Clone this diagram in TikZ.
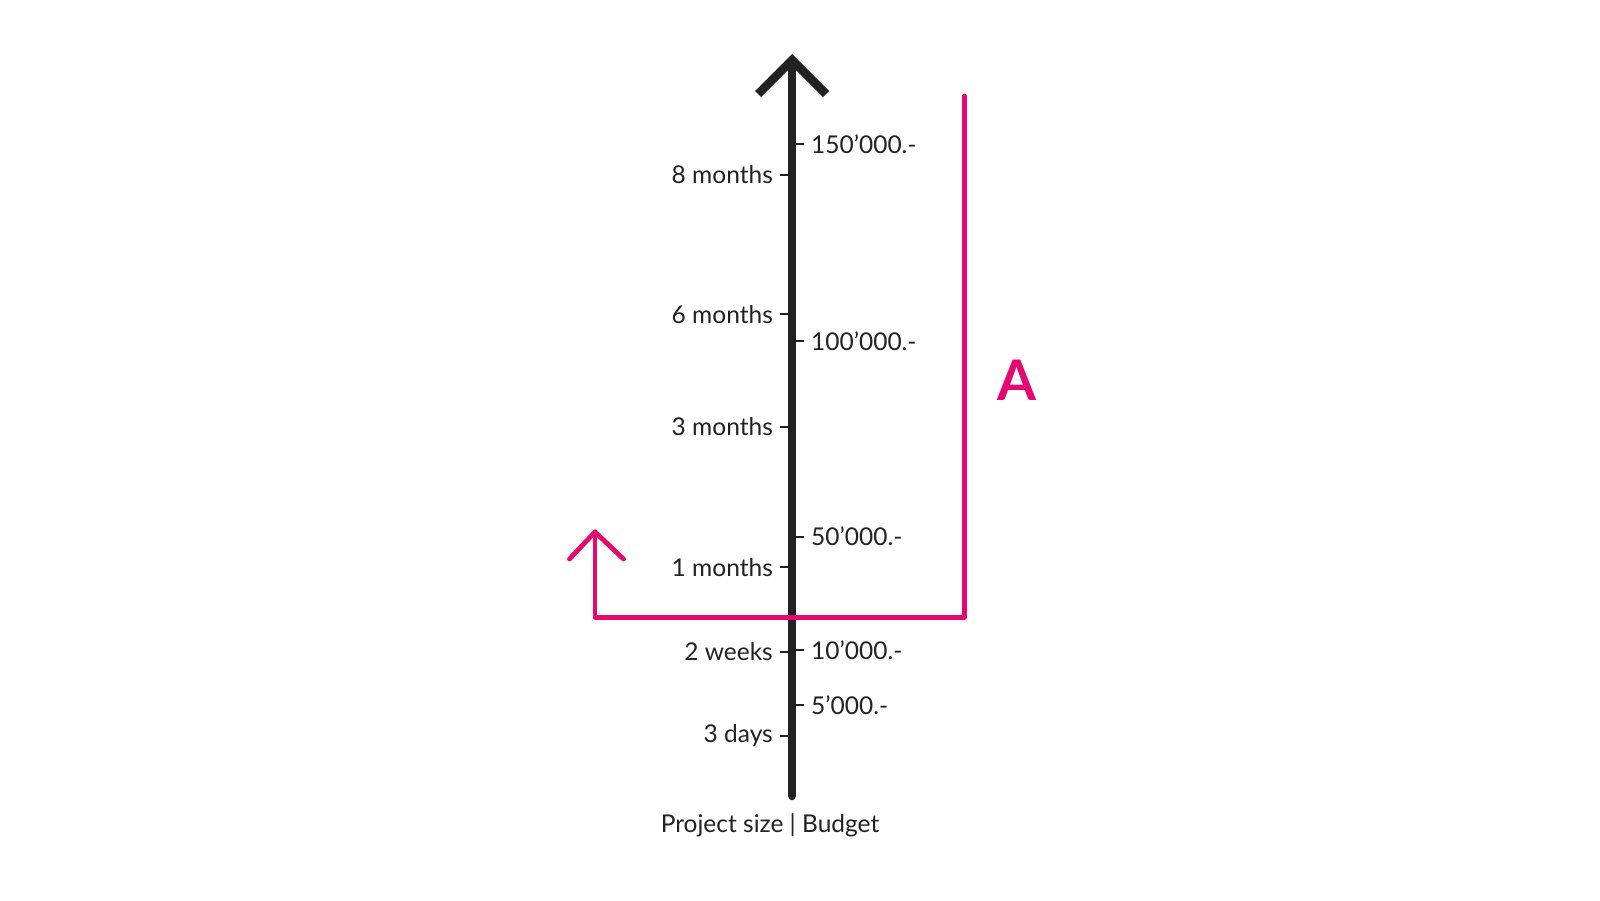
\documentclass[tikz,border=0pt]{standalone}
\usepackage{fontspec}
\setmainfont{Lato}
\definecolor{ink}{HTML}{222222}
\definecolor{pink}{HTML}{E5086F}
\begin{document}
\begin{tikzpicture}[x=1pt,y=-1pt,
  axisline/.style={ink,line width=8.5pt,line cap=round,line join=round},
  headline/.style={ink,line width=8.5pt,line cap=butt,line join=miter},
  pinkline/.style={pink,line width=4.8pt,line cap=round,line join=round},
  tickline/.style={ink,line width=2pt},
  labfont/.style={font=\fontsize{24.5}{28}\selectfont},
  leftlab/.style={labfont,anchor=east,inner sep=0pt,text=ink},
  rightlab/.style={labfont,anchor=west,inner sep=0pt,text=ink}]
\useasboundingbox (0,0) rectangle (1600,900);
% axis
\coordinate (bot) at (792,796);
\coordinate (top) at (792,62);
\coordinate (apex) at (792,60);
\coordinate (tl) at (758,94);
\coordinate (tr) at (826,94);
\draw[axisline] (bot) -- (top);
\draw[headline] (tl) -- (apex) -- (tr);
% left labels
\foreach \n/\y/\t in {m8/174.5/8 months, m6/314.3/6 months, m3/426.5/3 months, m1/567.3/1 months, w2/652/2 weeks, d3/735.7/3 days}{
  \node[leftlab] (\n) at (773,\y) {\t};
  \coordinate (\n t) at (780,\y);
  \coordinate (\n a) at (788,\y);
  \draw[tickline] (\n t) -- (\n a);
}
% right labels
\foreach \n/\y/\t in {b150/143.9/150’000.-, b100/340.8/100’000.-, b50/536.7/50’000.-, b10/650/10’000.-, b5/705.1/5’000.-}{
  \node[rightlab] (\n) at (811,\y) {\t};
  \coordinate (\n t) at (796,\y);
  \coordinate (\n a) at (804,\y);
  \draw[tickline] (\n t) -- (\n a);
}
\node[labfont,inner sep=0pt,text=ink] (title) at (770,825) {Project size | Budget};
% pink path
\coordinate (p1) at (964.3,96);
\coordinate (p2) at (964.3,617.3);
\coordinate (p3) at (595,617.3);
\coordinate (p4) at (595,532);
\coordinate (pl) at (569.5,559);
\coordinate (pr) at (623.5,559);
\draw[pinkline] (p1) -- (p2) -- (p3) -- (p4);
\draw[pinkline] (pl) -- (p4) -- (pr);
\node[inner sep=0pt,text=pink,font=\fontsize{56}{60}\selectfont\bfseries] (A) at (1016.5,380) {A};
\end{tikzpicture}
\end{document}
